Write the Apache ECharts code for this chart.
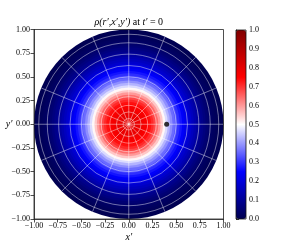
<!DOCTYPE html>
<html><head><meta charset="utf-8">
<script src="https://cdn.jsdelivr.net/npm/echarts@6/dist/echarts.min.js"></script>
<style>html,body{margin:0;padding:0;background:#fff}#c{width:287px;height:246px}</style>
</head><body><div id="c"></div>
<script>
// radial profile of the density
const radii = [0,0.025,0.05,0.075,0.1,0.125,0.15,0.175,0.2,0.225,0.25,0.275,0.3,0.325,0.35,0.375,0.4,0.425,0.45,0.475,0.5,0.525,0.55,0.575,0.6,0.625,0.65,0.675,0.7,0.725,0.75,0.775,0.8,0.825,0.85,0.875,0.9,0.925,0.95,0.975,1.0];
const density = [0.80,0.80,0.80,0.795,0.79,0.785,0.775,0.765,0.75,0.735,0.71,0.68,0.645,0.60,0.555,0.51,0.465,0.425,0.39,0.355,0.325,0.295,0.27,0.245,0.225,0.20,0.18,0.16,0.14,0.12,0.10,0.085,0.07,0.055,0.043,0.033,0.025,0.018,0.012,0.008,0.005];
const gridRings = [0.06,0.13,0.2,0.29,0.38,0.5,0.62,0.74,0.86,0.95];
const spokeAngles = [0,22.5,45,67.5,90,112.5,135,157.5,180,202.5,225,247.5,270,292.5,315,337.5];
const markerPoint = [[0.4,0]];
const seismic = ['#00004d','#0000ff','#ffffff','#ff0000','#800000'];

const heatData = [];
for (let i = radii.length - 1; i >= 0; i--) {
  const outer = i === radii.length - 1 ? radii[i] : (radii[i] + radii[i + 1]) / 2;
  heatData.push([radii[i], density[i], outer]);
}
const serif = 'Liberation Serif';
const fmt2 = v => (v < 0 ? '\u2212' : '') + Math.abs(v).toFixed(2);

const chart = echarts.init(document.getElementById('c'), null, {renderer:'canvas'});
chart.setOption({
  animation: false,
  backgroundColor: '#fff',
  title: {
    text: '{i|\u03c1(r\u2032,x\u2032,y\u2032)}{n| at }{i|t\u2032}{n| = 0}',
    left: 128.75, top: 17, textAlign: 'center', padding: 0,
    textStyle: { fontWeight: 'normal', rich: {
      i: {fontFamily: serif, fontStyle: 'italic', fontWeight: 'normal', fontSize: 10, color: '#000'},
      n: {fontFamily: serif, fontWeight: 'normal', fontSize: 10, color: '#000'}
    }}
  },
  grid: [
    {left: 34, top: 29.5, width: 189.5, height: 189.5, show: true, borderColor: '#222', borderWidth: 0.8, backgroundColor: 'transparent', z: 5},
    {left: 236, top: 30, width: 10, height: 189, show: true, borderColor: '#111', borderWidth: 0.8, backgroundColor: 'transparent', z: 10}
  ],
  xAxis: [
    {gridIndex: 0, type: 'value', min: -1, max: 1, interval: 0.25,
     axisLine: {onZero: false, lineStyle: {color: '#222', width: 0.8}},
     axisTick: {length: 3.5, lineStyle: {color: '#222', width: 0.8}},
     axisLabel: {formatter: fmt2, fontFamily: serif, fontSize: 8, color: '#000', margin: 3},
     splitLine: {show: false}},
    {gridIndex: 1, type: 'value', show: false, min: 0, max: 1}
  ],
  yAxis: [
    {gridIndex: 0, type: 'value', min: -1, max: 1, interval: 0.25,
     axisLine: {onZero: false, lineStyle: {color: '#222', width: 0.8}},
     axisTick: {length: 3.5, lineStyle: {color: '#222', width: 0.8}},
     axisLabel: {formatter: fmt2, fontFamily: serif, fontSize: 8, color: '#000', margin: 4},
     splitLine: {show: false}},
    {gridIndex: 1, type: 'value', min: 0, max: 1, interval: 0.1, position: 'right',
     axisLine: {show: true, lineStyle: {color: '#111', width: 0.8}},
     axisTick: {show: true, length: 3, lineStyle: {color: '#111', width: 0.8}},
     axisLabel: {formatter: v => v.toFixed(1), fontFamily: serif, fontSize: 8, color: '#000', margin: 3},
     splitLine: {show: false}}
  ],
  visualMap: {
    type: 'continuous', min: 0, max: 1, dimension: 1, seriesIndex: 0,
    left: 236, top: 30, itemWidth: 10, itemHeight: 189, padding: 0,
    calculable: false, hoverLink: false, text: null, showLabel: false,
    inRange: {color: seismic}
  },
  graphic: [
    {type: 'text', x: 9, y: 124, style: {text: 'y\u2032', font: 'italic 10px "Liberation Serif"', fill: '#000', textAlign: 'center', textVerticalAlign: 'middle'}},
    {type: 'text', x: 128.75, y: 237.5, style: {text: 'x\u2032', font: 'italic 10px "Liberation Serif"', fill: '#000', textAlign: 'center', textVerticalAlign: 'middle'}}
  ],
  series: [
    {type: 'custom', xAxisIndex: 0, yAxisIndex: 0, data: heatData, silent: true,
     renderItem: function (params, api) {
       const c = api.coord([0, 0]);
       const e = api.coord([api.value(2), 0]);
       return {type: 'circle', shape: {cx: c[0], cy: c[1], r: e[0] - c[0]}, style: {fill: api.visual('color'), stroke: null}};
     }},
    {type: 'custom', xAxisIndex: 0, yAxisIndex: 0, data: gridRings.map(r => [r]), silent: true, z: 3,
     renderItem: function (params, api) {
       const c = api.coord([0, 0]);
       const e = api.coord([api.value(0), 0]);
       return {type: 'circle', shape: {cx: c[0], cy: c[1], r: e[0] - c[0]}, style: {fill: null, stroke: 'rgba(255,255,255,0.55)', lineWidth: 0.8}};
     }},
    {type: 'custom', xAxisIndex: 0, yAxisIndex: 0, data: spokeAngles.map(a => [a]), silent: true, z: 3,
     renderItem: function (params, api) {
       const a = api.value(0) * Math.PI / 180;
       const c = api.coord([0, 0]);
       const e = api.coord([Math.cos(a), Math.sin(a)]);
       return {type: 'line', shape: {x1: c[0], y1: c[1], x2: e[0], y2: e[1]}, style: {stroke: 'rgba(255,255,255,0.55)', lineWidth: 0.8}};
     }},
    {type: 'scatter', xAxisIndex: 0, yAxisIndex: 0, data: markerPoint, symbolSize: 5, z: 6, silent: true,
     itemStyle: {color: '#000'}}
  ]
});
</script></body></html>
